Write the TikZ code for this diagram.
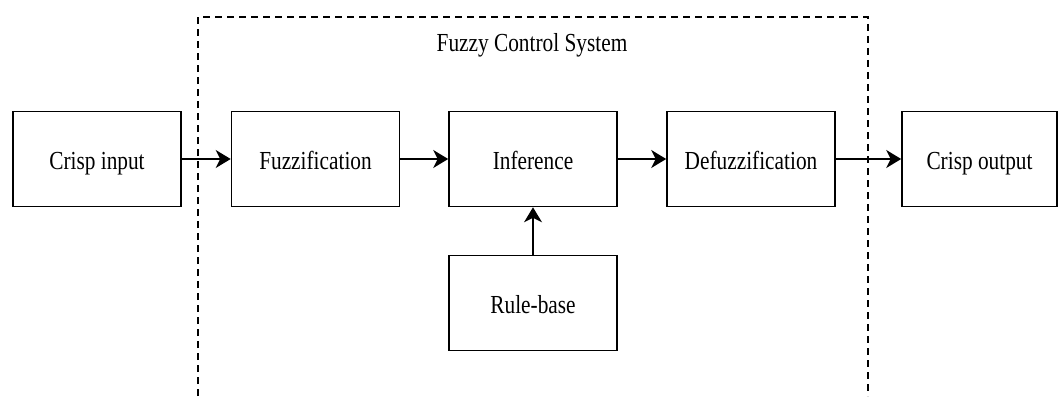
\documentclass[tikz,border=0pt]{standalone}
\usepackage{fontspec}
\setmainfont{Liberation Serif}[FakeStretch=0.82]
\usetikzlibrary{arrows.meta}
\begin{document}
\begin{tikzpicture}[x=1pt,y=-1pt,
  blockbox/.style={draw, line width=1.6pt, minimum width=168pt, minimum height=95pt, inner sep=0pt, text height=21pt, text depth=1pt, font=\fontsize{26}{30}\selectfont},
  conn/.style={line width=1.4pt, -{Stealth[length=15pt,width=18pt,inset=4.5pt]}},
  frame/.style={line width=1.4pt, dash pattern=on 7pt off 5pt},
  titletext/.style={font=\fontsize{26}{30}\selectfont, anchor=base, inner sep=0pt}]
\useasboundingbox (0,0) rectangle (1059,396);
\draw[frame] (198,396) -- (198,17) -- (868,17) -- (868,396);
\node[titletext] (title) at (532,52) {Fuzzy Control System};
\node[blockbox] (cin) at (97,159) {Crisp input};
\node[blockbox] (fuz) at (315.5,159) {Fuzzification};
\node[blockbox] (inf) at (533,159) {Inference};
\node[blockbox] (def) at (751,159) {Defuzzification};
\node[blockbox, minimum width=155pt] (cout) at (979.5,159) {Crisp output};
\node[blockbox] (rule) at (533,303) {Rule-base};
\draw[conn] (cin) -- (fuz);
\draw[conn] (fuz) -- (inf);
\draw[conn] (inf) -- (def);
\draw[conn] (def) -- (cout);
\draw[conn] (rule) -- (inf);
\end{tikzpicture}
\end{document}
